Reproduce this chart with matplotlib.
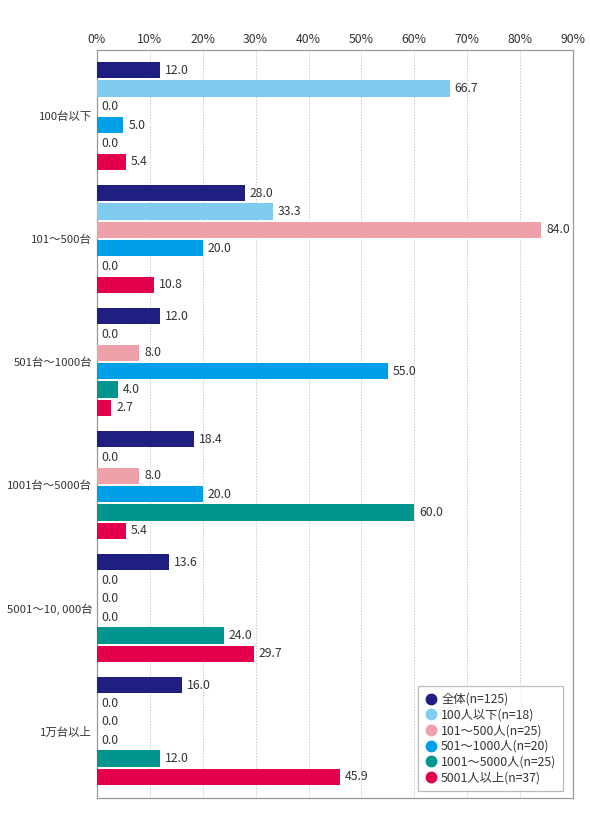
import numpy as np
import matplotlib.pyplot as plt
from matplotlib.lines import Line2D

plt.rcParams['font.family'] = ['Noto Sans CJK JP', 'DejaVu Sans']

categories = ['100台以下', '101～500台', '501台～1000台', '1001台～5000台', '5001～10, 000台', '1万台以上']
series_names = ['全体(n=125)', '100人以下(n=18)', '101～500人(n=25)', '501～1000人(n=20)',
                '1001～5000人(n=25)', '5001人以上(n=37)']
colors = ['#1e1f80', '#80ccf0', '#efa1aa', '#00a0e9', '#00968f', '#e4004f']

zentai = [12.0, 28.0, 12.0, 18.4, 13.6, 16.0]
s100 = [66.7, 33.3, 0.0, 0.0, 0.0, 0.0]
s500 = [0.0, 84.0, 8.0, 8.0, 0.0, 0.0]
s1000 = [5.0, 20.0, 55.0, 20.0, 0.0, 0.0]
s5000 = [0.0, 0.0, 4.0, 60.0, 24.0, 12.0]
s5001 = [5.4, 10.8, 2.7, 5.4, 29.7, 45.9]
series = [zentai, s100, s500, s1000, s5000, s5001]

fig = plt.figure(figsize=(5.9, 8.19), dpi=100)
ax = fig.add_axes([0.1644, 0.0256, 0.8068, 0.9134])

y = np.arange(len(categories))
slot = 0.149
bar_h = 0.134
for j, (vals, col) in enumerate(zip(series, colors)):
    pos = y + (j - 2.5) * slot
    ax.barh(pos, vals, height=bar_h, color=col, zorder=3)
    for p, v in zip(pos, vals):
        ax.annotate(f'{v:.1f}', (v, p), xytext=(3.5, 0), textcoords='offset points',
                    va='center', ha='left', fontsize=8.8, color='#333333')

ax.set_xlim(0, 90)
ax.set_ylim(len(categories) - 1 + 0.545, -0.537)
ax.set_xticks(np.arange(0, 91, 10))
ax.set_xticklabels([f'{t}%' for t in range(0, 91, 10)])
ax.xaxis.tick_top()
ax.tick_params(axis='x', length=0, pad=3, labelsize=8.8, colors='#333333')
ax.set_yticks(y)
ax.set_yticklabels(categories)
ax.tick_params(axis='y', length=0, pad=3.5, labelsize=8.2, colors='#333333')
ax.grid(axis='x', linestyle=(0, (1.5, 1.5)), color='#cccccc', linewidth=0.7, zorder=0)
for s in ax.spines.values():
    s.set_color('#999999')
    s.set_linewidth(0.9)

handles = [Line2D([], [], marker='o', linestyle='none', markersize=7.5,
                  markerfacecolor=c, markeredgecolor=c) for c in colors]
leg = ax.legend(handles, series_names, loc='lower left', bbox_to_anchor=(0.674, 0.0094),
                borderaxespad=0, fontsize=8.8, frameon=True, fancybox=False,
                handletextpad=0.35, handlelength=1.0, labelspacing=0.22,
                borderpad=0.55)
leg.get_frame().set_edgecolor('#aaaaaa')
leg.get_frame().set_linewidth(0.9)
for t in leg.get_texts():
    t.set_color('#333333')

fig.savefig('out.png', dpi=100, facecolor='white')
